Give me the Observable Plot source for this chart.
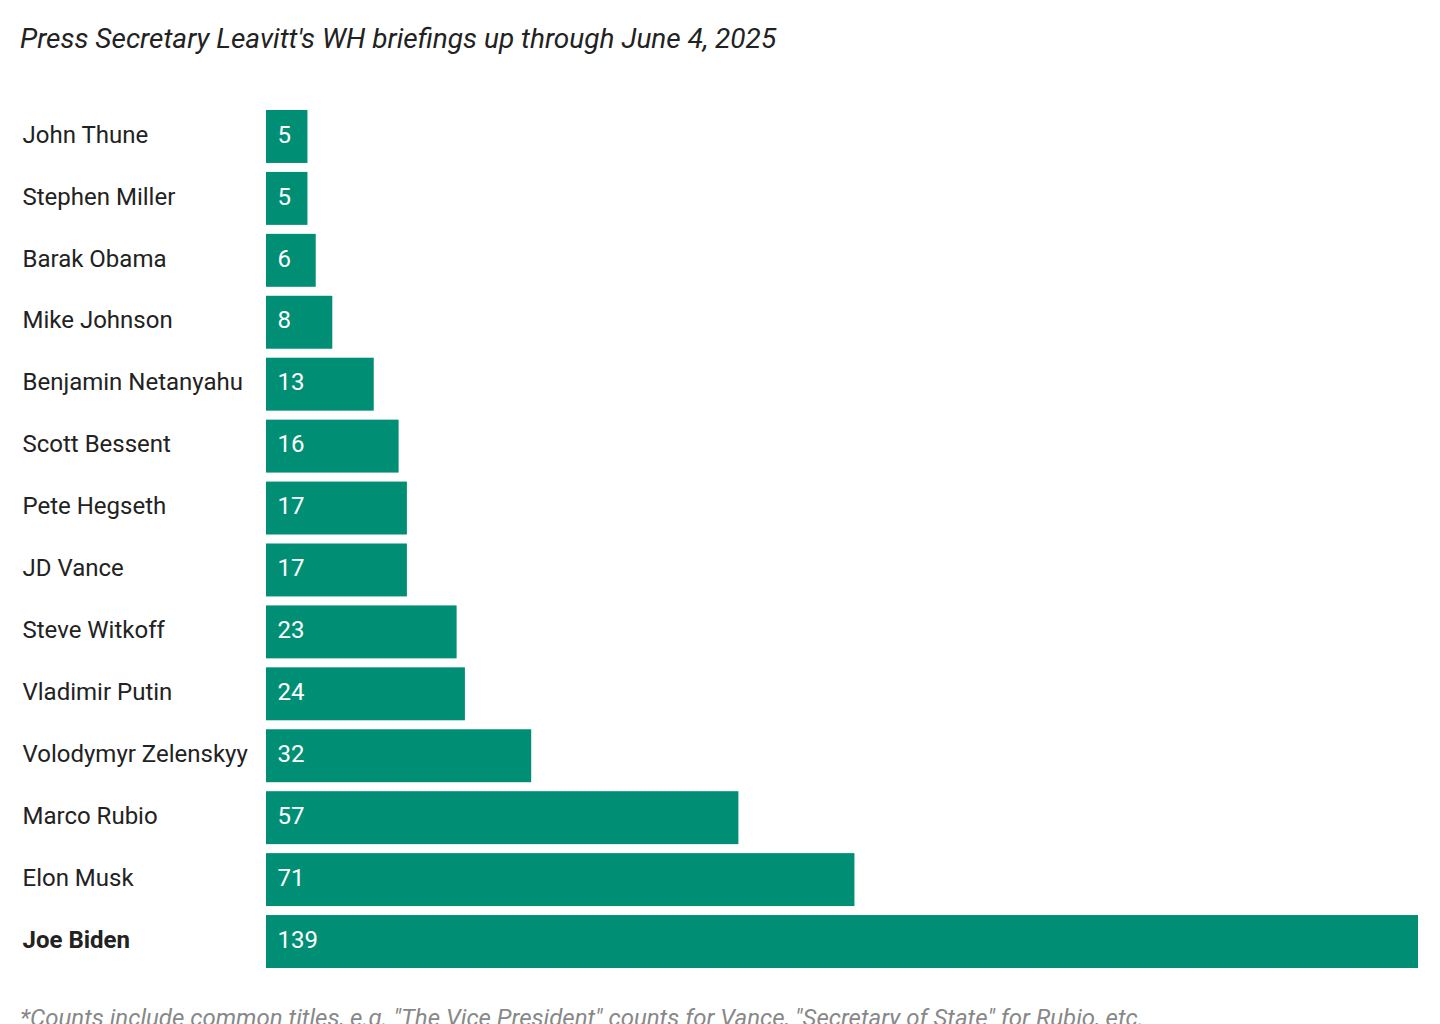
<!DOCTYPE html>
<html>
<head>
<meta charset="utf-8">
<script src="https://cdn.jsdelivr.net/npm/d3@7"></script>
<script src="https://cdn.jsdelivr.net/npm/@observablehq/plot@0.6"></script>
<style>
  body { margin: 0; background: #fff; font-family: Roboto, sans-serif; overflow: hidden; }
  #subtitle { height: 80px; box-sizing: border-box; padding: 21px 0 0 20px; font-size: 28px; font-style: italic; color: #222; line-height: 36px; }
  #footer { padding: 26px 0 0 20px; font-size: 24px; line-height: 28px; font-style: italic; color: #888; white-space: nowrap; }
  svg { display: block; }
</style>
</head>
<body>
<div id="subtitle">Press Secretary Leavitt's WH briefings up through June 4, 2025</div>
<div id="chart"></div>
<div id="footer">*Counts include common titles, e.g. "The Vice President" counts for Vance, "Secretary of State" for Rubio, etc.</div>
<script>
const names = ["John Thune","Stephen Miller","Barak Obama","Mike Johnson","Benjamin Netanyahu","Scott Bessent","Pete Hegseth","JD Vance","Steve Witkoff","Vladimir Putin","Volodymyr Zelenskyy","Marco Rubio","Elon Musk","Joe Biden"];
const counts = [5,5,6,8,13,16,17,17,23,24,32,57,71,139];
const highlight = ["Joe Biden"];

const data = names.map((name, i) => ({name, count: counts[i], bold: highlight.includes(name)}));

const chart = Plot.plot({
  width: 1440,
  height: 898,
  marginTop: 30,
  marginBottom: 10,
  marginLeft: 266,
  marginRight: 22,
  style: {fontFamily: "Roboto, sans-serif", background: "transparent"},
  x: {domain: [0, 139], axis: null},
  y: {domain: names, axis: null, paddingInner: 0.145, paddingOuter: 0, round: false},
  marks: [
    Plot.barX(data, {x: "count", y: "name", fill: "#008f75"}),
    Plot.text(data.filter(d => !d.bold), {x: 0, y: "name", text: "name", textAnchor: "start", dx: -244, dy: -2, fontSize: 24, fill: "#222"}),
    Plot.text(data.filter(d => d.bold), {x: 0, y: "name", text: "name", textAnchor: "start", dx: -244, dy: -2, fontSize: 24, fill: "#222", fontWeight: "bold"}),
    Plot.text(data, {x: 0, y: "name", text: d => String(d.count), textAnchor: "start", dx: 11, dy: -2, fontSize: 24, fill: "white"})
  ]
});
document.getElementById("chart").appendChild(chart);
</script>
</body>
</html>
